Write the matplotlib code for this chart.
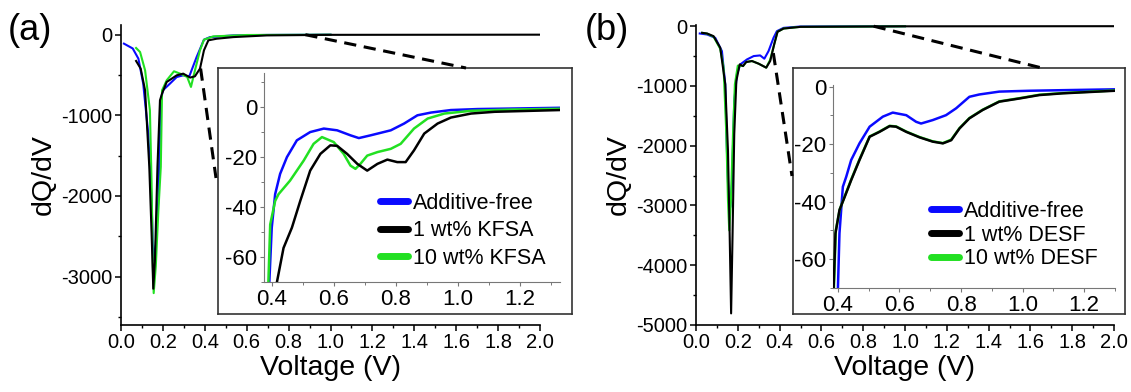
import matplotlib.pyplot as plt
import numpy as np
from matplotlib.lines import Line2D
from matplotlib.ticker import MultipleLocator

plt.rcParams['font.family'] = ['Liberation Sans', 'DejaVu Sans']

W, H = 1131, 392

BLUE = '#0a0aff'
BLACK = '#000000'
GREEN = '#22e022'

# ---- panel (a): KFSA, full range ----
a_v_free = [0.014, 0.056, 0.083, 0.106, 0.13, 0.146, 0.154, 0.166, 0.178, 0.19, 0.2, 0.234,
            0.266, 0.297, 0.326, 0.361, 0.396, 0.425, 0.535, 0.7, 1.0]
a_dq_free = [-111, -171, -297, -606, -1225, -2050, -2800, -2600, -2050, -814, -690, -606,
             -525, -504, -516, -277, -62, -30, -9, -3, 0]
a_v_1 = [0.072, 0.094, 0.115, 0.135, 0.146, 0.154, 0.162, 0.174, 0.186, 0.196, 0.218, 0.266,
         0.297, 0.33, 0.353, 0.377, 0.396, 0.417, 0.457, 0.536, 0.696, 1.0, 2.0]
a_dq_1 = [-326, -421, -690, -1639, -2463, -3150, -2793, -1639, -814, -730, -587, -504,
          -483, -532, -516, -421, -194, -70, -50, -30, -9, -2, 0]
a_v_10 = [0.072, 0.091, 0.115, 0.138, 0.146, 0.152, 0.156, 0.166, 0.178, 0.19, 0.196, 0.218,
          0.253, 0.29, 0.316, 0.334, 0.353, 0.377, 0.396, 0.441, 0.6, 1.0]
a_dq_10 = [-165, -215, -442, -937, -1844, -2876, -3205, -2876, -2200, -1639, -690, -566,
           -454, -491, -525, -648, -442, -194, -62, -21, -4, 0]

# ---- panel (a) inset ----
ai_v_free = [0.392, 0.4, 0.411, 0.427, 0.449, 0.481, 0.524, 0.568, 0.611, 0.654, 0.681, 0.719,
             0.784, 0.827, 0.870, 0.914, 0.978, 1.065, 1.173, 1.33]
ai_dq_free = [-70.5, -48.3, -34.9, -26.8, -20.1, -13.4, -10.1, -8.7, -9.4, -11.4, -12.5, -11.4,
              -9.4, -6.7, -3.4, -2.3, -1.3, -0.9, -0.7, -0.4]
ai_v_1 = [0.416, 0.438, 0.465, 0.492, 0.524, 0.557, 0.589, 0.611, 0.643, 0.676, 0.708, 0.741,
          0.773, 0.805, 0.832, 0.859, 0.892, 0.935, 0.978, 1.043, 1.119, 1.33]
ai_dq_1 = [-70.5, -56.4, -48.3, -37.6, -25.5, -18.8, -15.4, -15.6, -18.8, -22.8, -25.5, -22.8,
           -21.1, -22.1, -22.1, -17.4, -10.7, -6.7, -4.3, -2.7, -2.0, -1.3]
ai_v_10 = [0.389, 0.395, 0.411, 0.422, 0.459, 0.503, 0.535, 0.562, 0.6, 0.632, 0.654, 0.670,
           0.686, 0.708, 0.741, 0.784, 0.816, 0.859, 0.903, 0.957, 1.043, 1.173, 1.33]
ai_dq_10 = [-70.5, -47, -37.6, -34.9, -29.5, -21.5, -14.8, -12.1, -14.1, -18.8, -23.5, -24.8,
            -22.8, -19.5, -18.1, -16.8, -14.8, -8.7, -4.7, -2.7, -1.6, -1.1, -0.8]

# ---- panel (b): DESF, full range ----
b_v_free = [0.018, 0.053, 0.092, 0.124, 0.14, 0.148, 0.156, 0.164, 0.172, 0.183, 0.196, 0.212,
            0.244, 0.276, 0.307, 0.327, 0.347, 0.371, 0.387, 0.419, 0.5, 1.0]
b_dq_free = [-122, -139, -194, -417, -972, -2083, -2917, -3028, -2639, -1250, -806, -639,
             -556, -500, -489, -544, -417, -194, -83, -28, -5, 0]
b_v_1 = [0.029, 0.053, 0.084, 0.116, 0.14, 0.153, 0.161, 0.168, 0.175, 0.183, 0.193, 0.209,
         0.225, 0.24, 0.268, 0.3, 0.336, 0.355, 0.374, 0.39, 0.419, 0.5, 1.0, 2.0]
b_dq_1 = [-111, -122, -167, -361, -972, -2083, -3472, -4806, -3472, -1806, -917, -639,
          -667, -600, -583, -628, -694, -583, -306, -94, -39, -11, -2, 0]
b_v_10 = [0.03, 0.053, 0.084, 0.116, 0.132, 0.145, 0.153, 0.159, 0.167, 0.177, 0.186, 0.2,
          0.225, 0.24, 0.268, 0.3, 0.336, 0.355, 0.374, 0.39, 0.419, 0.5, 1.0]
b_dq_10 = [-111, -125, -175, -380, -694, -1806, -2917, -3417, -2917, -1806, -972, -660,
           -667, -600, -583, -628, -694, -560, -306, -94, -39, -11, -2]

# ---- panel (b) inset ----
bi_v_free = [0.4, 0.405, 0.416, 0.427, 0.443, 0.47, 0.503, 0.546, 0.578, 0.622, 0.654, 0.670,
             0.708, 0.751, 0.784, 0.827, 0.859, 0.924, 1.022, 1.13, 1.30]
bi_dq_free = [-70, -51, -34.8, -31.3, -25.5, -19.7, -13.9, -10.4, -9.0, -9.9, -12.2, -12.8,
              -11.6, -9.9, -7.5, -3.5, -2.7, -1.7, -1.4, -1.2, -0.9]
bi_v_1 = [0.386, 0.392, 0.405, 0.422, 0.443, 0.47, 0.503, 0.535, 0.568, 0.589, 0.622, 0.665,
          0.708, 0.741, 0.768, 0.795, 0.827, 0.87, 0.924, 0.989, 1.054, 1.13, 1.30]
bi_dq_1 = [-70, -51, -42.9, -38.3, -32.5, -25.5, -17.4, -15.7, -13.7, -13.9, -15.7, -17.6,
           -19.1, -19.7, -18.6, -14.5, -11.0, -8.1, -5.2, -4.1, -2.9, -2.3, -1.4]
bi_v_10 = [0.387, 0.393, 0.406, 0.422, 0.443, 0.47, 0.503, 0.535, 0.568, 0.589, 0.622, 0.665,
           0.708, 0.741, 0.768, 0.795, 0.827, 0.87, 0.924, 0.989, 1.054, 1.13, 1.30]
bi_dq_10 = [-70, -50, -42.6, -38.1, -32.3, -25.3, -17.3, -15.6, -13.6, -13.8, -15.6, -17.5,
            -19.0, -19.6, -18.4, -14.4, -10.9, -8.0, -5.1, -4.0, -2.8, -2.2, -1.3]


def px_rect(x0, y0, x1, y1):
    # pixel box (top-left origin) -> figure fraction rect
    return [x0 / W, 1 - y1 / H, (x1 - x0) / W, (y1 - y0) / H]


def style_main(ax, ylim, ymajor):
    ax.set_xlim(0, 2.0)
    ax.set_ylim(*ylim)
    ax.xaxis.set_major_locator(MultipleLocator(0.2))
    ax.xaxis.set_minor_locator(MultipleLocator(0.1))
    ax.yaxis.set_major_locator(MultipleLocator(ymajor))
    ax.yaxis.set_minor_locator(MultipleLocator(ymajor / 2))
    ax.xaxis.set_major_formatter(plt.FuncFormatter(lambda v, p: f'{v:.1f}'))
    ax.yaxis.set_major_formatter(plt.FuncFormatter(lambda v, p: f'{v:.0f}'))
    for s in ['top', 'right']:
        ax.spines[s].set_visible(False)
    for s in ['left', 'bottom']:
        ax.spines[s].set_linewidth(1.2)
    ax.tick_params(which='major', direction='out', length=4, width=1.1, labelsize=14.5, pad=2)
    ax.tick_params(which='minor', direction='out', length=2.5, width=1.0)
    ax.set_xlabel('Voltage (V)', fontsize=20.5, labelpad=2)
    ax.set_ylabel('dQ/dV', fontsize=20.5, labelpad=3)


def style_inset(ax, xlim, ylim):
    ax.set_xlim(*xlim)
    ax.set_ylim(*ylim)
    ax.xaxis.set_major_locator(MultipleLocator(0.2))
    ax.xaxis.set_minor_locator(MultipleLocator(0.1))
    ax.yaxis.set_major_locator(MultipleLocator(20))
    ax.yaxis.set_minor_locator(MultipleLocator(10))
    ax.xaxis.set_major_formatter(plt.FuncFormatter(lambda v, p: f'{v:.1f}'))
    ax.yaxis.set_major_formatter(plt.FuncFormatter(lambda v, p: f'{v:.0f}'))
    ax.patch.set_alpha(0)
    for s in ['top', 'right']:
        ax.spines[s].set_visible(False)
    for s in ['left', 'bottom']:
        ax.spines[s].set_linewidth(0.8)
        ax.spines[s].set_color('#777777')
    ax.tick_params(which='major', direction='out', length=3, width=0.8, color='#777777',
                   labelsize=16, pad=2)
    ax.tick_params(which='minor', direction='out', length=2, width=0.7, color='#777777')


def inset_box(rect):
    box = fig.add_axes(rect)
    box.set_xticks([])
    box.set_yticks([])
    for s in box.spines.values():
        s.set_linewidth(1.2)
        s.set_color('#333333')
    box.set_facecolor('white')
    return box


fig = plt.figure(figsize=(W / 100, H / 100), dpi=100)

panels = [
    dict(main=px_rect(121, 25, 540, 325), ylim=(-3600, 120), ymajor=1000,
         box=px_rect(218, 68, 572, 314), inset=px_rect(264, 73, 560, 282),
         ixlim=(0.375, 1.33), iylim=(-70, 13.5),
         full=[(a_v_free, a_dq_free), (a_v_1, a_dq_1), (a_v_10, a_dq_10)],
         zoom=[(ai_v_free, ai_dq_free), (ai_v_1, ai_dq_1), (ai_v_10, ai_dq_10)],
         names=['Additive-free', '1 wt% KFSA', '10 wt% KFSA'],
         leg=(380, 193), lspace=0.3, tag='(a)', tagx=8,
         dash1=((0.38, -420), (216, 178)), dash2=((0.88, 0), (466, 68))),
    dict(main=px_rect(696, 25, 1114, 325), ylim=(-5000, 20), ymajor=1000,
         box=px_rect(793, 68, 1125, 314), inset=px_rect(833, 85, 1115, 288),
         ixlim=(0.384, 1.30), iylim=(-70, 0.6),
         full=[(b_v_free, b_dq_free), (b_v_1, b_dq_1), (b_v_10, b_dq_10)],
         zoom=[(bi_v_free, bi_dq_free), (bi_v_1, bi_dq_1), (bi_v_10, bi_dq_10)],
         names=['Additive-free', '1 wt% DESF', '10 wt% DESF'],
         leg=(931, 201), lspace=0.12, tag='(b)', tagx=585,
         dash1=((0.37, -450), (792, 176)), dash2=((0.85, 0), (1042, 68))),
]

colors = [BLUE, BLACK, GREEN]
zorders = [2, 4, 3]

for p in panels:
    ax = fig.add_axes(p['main'])
    for (v, dq), c, z in zip(p['full'], colors, zorders):
        ax.plot(v, dq, color=c, lw=1.5, zorder=z)
    style_main(ax, p['ylim'], p['ymajor'])

    # dashed connectors from the full curve to the zoom box
    for (xd, yd), (xp, yp) in [p['dash1'], p['dash2']]:
        x0, y0 = ax.transData.transform((xd, yd))
        fig.add_artist(Line2D([x0 / W, xp / W], [y0 / H, 1 - yp / H],
                              transform=fig.transFigure, color='black', lw=2.2,
                              ls=(0, (4, 2.5)), zorder=5))

    inset_box(p['box'])
    iax = fig.add_axes(p['inset'])
    handles = []
    for (v, dq), c, z, name in zip(p['zoom'], colors, zorders, p['names']):
        iax.plot(v, dq, color=c, lw=1.8, zorder=z)
        handles.append(Line2D([], [], color=c, lw=5, solid_capstyle='round', label=name))
    style_inset(iax, p['ixlim'], p['iylim'])
    lx, ly = p['leg']
    fig.legend(handles=handles, loc='upper left', bbox_to_anchor=(lx / W, 1 - ly / H),
               frameon=False, fontsize=15.5, handlelength=1.3, handletextpad=0.25,
               borderpad=0, borderaxespad=0, labelspacing=p['lspace'])

    fig.text(p['tagx'] / W, 1 - 30 / H, p['tag'], fontsize=26, va='center', ha='left')

fig.savefig('out.png', dpi=100)
